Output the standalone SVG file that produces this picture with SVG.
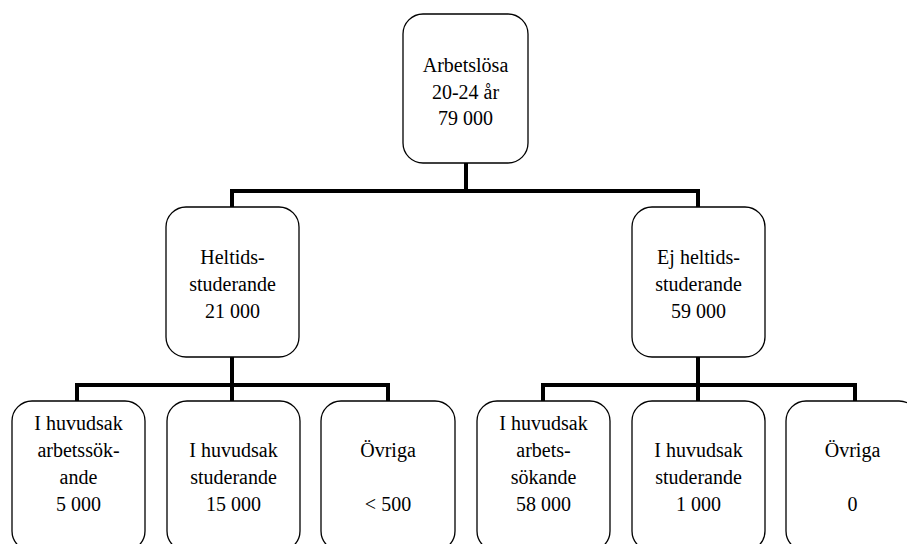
<svg xmlns="http://www.w3.org/2000/svg" width="907" height="544" viewBox="0 0 907 544">
<style>
.box{fill:#fff;stroke:#000;stroke-width:1.3}
.c{stroke:#000;stroke-width:4;fill:none;stroke-linecap:square}
</style>
<rect width="907" height="544" fill="#fff"/>
<g id="connectors">
<path class="c" d="M466 163V191M232 191H698M232 191V207M698 191V207"/>
<path class="c" d="M232 357V385M77 385H388M77 385V401M232 385V401M388 385V401"/>
<path class="c" d="M698 357V385M543 385H855M543 385V401M698 385V401M855 385V401"/>
</g>
<g id="nodes" font-family="Liberation Serif" font-size="20" fill="#000" text-anchor="middle">
<g id="n0"><rect class="box" x="403" y="14" width="125" height="149" rx="20"/>
<text x="465.5" y="72">Arbetslösa</text><text x="465.5" y="98.5">20-24 år</text><text x="465.5" y="125">79 000</text></g>
<g id="n1"><rect class="box" x="166" y="207" width="133" height="150" rx="20"/>
<text x="232.5" y="264">Heltids-</text><text x="232.5" y="291">studerande</text><text x="232.5" y="318">21 000</text></g>
<g id="n2"><rect class="box" x="632" y="207" width="133" height="150" rx="20"/>
<text x="698.5" y="264">Ej heltids-</text><text x="698.5" y="291">studerande</text><text x="698.5" y="318">59 000</text></g>
<g id="n3"><rect class="box" x="12" y="401" width="133" height="150" rx="20"/>
<text x="78.5" y="430">I huvudsak</text><text x="78.5" y="457">arbetssök-</text><text x="78.5" y="484">ande</text><text x="78.5" y="511">5 000</text></g>
<g id="n4"><rect class="box" x="167" y="401" width="133" height="150" rx="20"/>
<text x="233.5" y="457">I huvudsak</text><text x="233.5" y="484">studerande</text><text x="233.5" y="511">15 000</text></g>
<g id="n5"><rect class="box" x="321" y="401" width="134" height="150" rx="20"/>
<text x="388" y="457">Övriga</text><text x="388" y="511">&lt; 500</text></g>
<g id="n6"><rect class="box" x="477" y="401" width="133" height="150" rx="20"/>
<text x="543.5" y="430">I huvudsak</text><text x="543.5" y="457">arbets-</text><text x="543.5" y="484">sökande</text><text x="543.5" y="511">58 000</text></g>
<g id="n7"><rect class="box" x="632" y="401" width="133" height="150" rx="20"/>
<text x="698.5" y="457">I huvudsak</text><text x="698.5" y="484">studerande</text><text x="698.5" y="511">1 000</text></g>
<g id="n8"><rect class="box" x="786" y="401" width="133" height="150" rx="20"/>
<text x="852.5" y="457">Övriga</text><text x="852.5" y="511">0</text></g>
</g>
</svg>
